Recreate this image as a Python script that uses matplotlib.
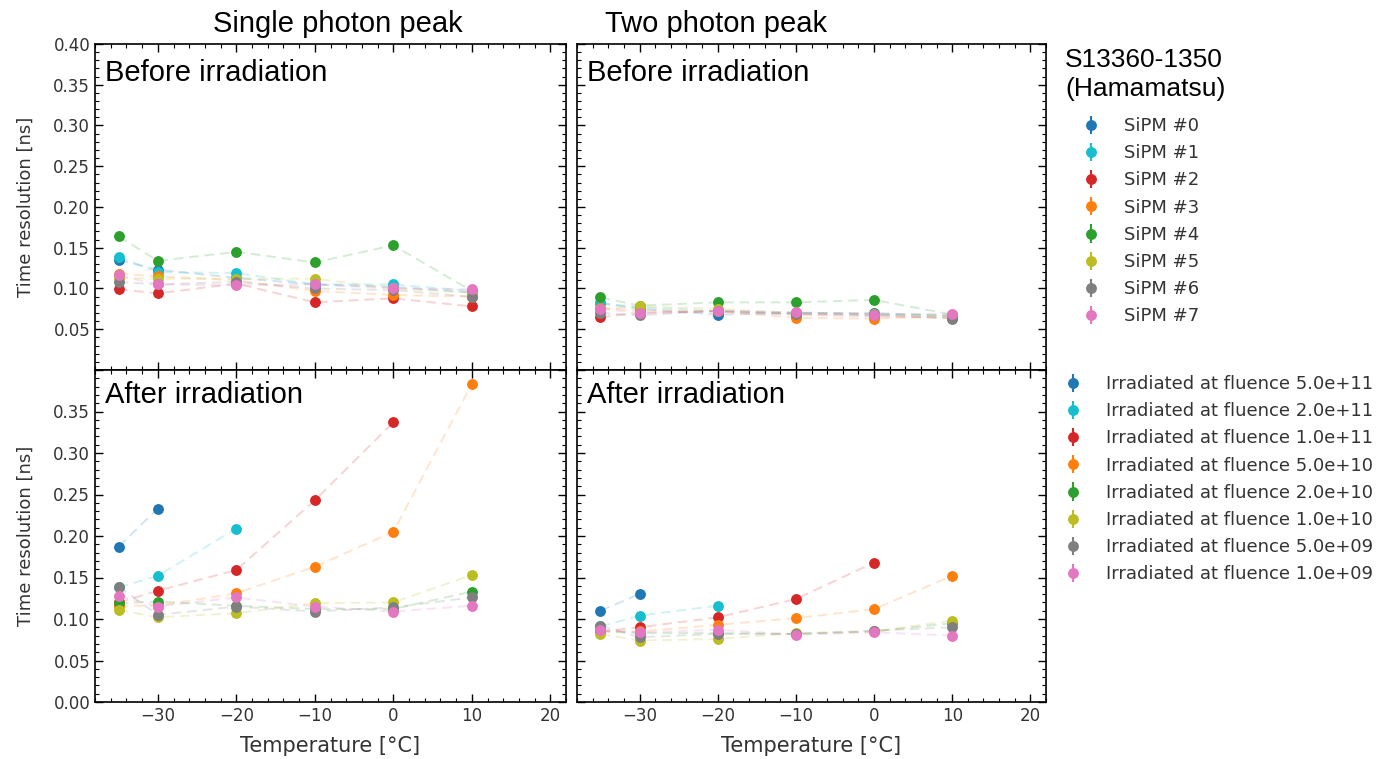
import numpy as np
import matplotlib
matplotlib.use("Agg")
import matplotlib.pyplot as plt
from matplotlib.ticker import MultipleLocator, FixedLocator, FixedFormatter

nan = np.nan
temperatures = [-35, -30, -20, -10, 0, 10]

sipm_labels = ["SiPM #0", "SiPM #1", "SiPM #2", "SiPM #3",
               "SiPM #4", "SiPM #5", "SiPM #6", "SiPM #7"]
fluence_labels = ["Irradiated at fluence 5.0e+11", "Irradiated at fluence 2.0e+11",
                  "Irradiated at fluence 1.0e+11", "Irradiated at fluence 5.0e+10",
                  "Irradiated at fluence 2.0e+10", "Irradiated at fluence 1.0e+10",
                  "Irradiated at fluence 5.0e+09", "Irradiated at fluence 1.0e+09"]
colors = ["tab:blue", "tab:cyan", "tab:red", "tab:orange",
          "tab:green", "tab:olive", "tab:gray", "tab:pink"]

# Single photon peak, before irradiation
single_before = [
    [0.135, 0.123, 0.113, 0.105, 0.102, 0.095],
    [0.139, 0.120, 0.119, 0.105, 0.105, 0.097],
    [0.099, 0.094, 0.106, 0.083, 0.088, 0.078],
    [0.118, 0.115, 0.110, 0.097, 0.092, 0.090],
    [0.164, 0.134, 0.145, 0.132, 0.153, 0.097],
    [0.113, 0.112, 0.112, 0.112, 0.100, 0.095],
    [0.108, 0.105, 0.108, 0.100, 0.098, 0.090],
    [0.116, 0.105, 0.104, 0.105, 0.100, 0.099],
]
# Single photon peak, after irradiation
single_after = [
    [0.187, 0.233, nan, nan, nan, nan],
    [0.138, 0.152, 0.209, nan, nan, nan],
    [0.120, 0.134, 0.159, 0.243, 0.337, nan],
    [0.116, 0.116, 0.131, 0.163, 0.205, 0.383],
    [0.119, 0.121, 0.116, 0.112, 0.112, 0.133],
    [0.111, 0.102, 0.107, 0.119, 0.120, 0.153],
    [0.139, 0.105, 0.115, 0.109, 0.114, 0.126],
    [0.128, 0.115, 0.126, 0.115, 0.109, 0.116],
]
# Two photon peak, before irradiation
two_before = [
    [0.082, 0.075, 0.068, 0.070, 0.070, 0.066],
    [0.082, 0.077, 0.072, 0.070, 0.068, 0.067],
    [0.065, 0.070, 0.072, 0.068, 0.066, 0.064],
    [0.076, 0.073, 0.072, 0.064, 0.063, 0.066],
    [0.089, 0.079, 0.083, 0.083, 0.086, 0.068],
    [0.075, 0.078, 0.075, 0.070, 0.069, 0.067],
    [0.070, 0.067, 0.073, 0.069, 0.068, 0.063],
    [0.075, 0.070, 0.072, 0.071, 0.068, 0.069],
]
# Two photon peak, after irradiation
two_after = [
    [0.110, 0.130, nan, nan, nan, nan],
    [0.091, 0.104, 0.116, nan, nan, nan],
    [0.085, 0.090, 0.102, 0.124, 0.168, nan],
    [0.085, 0.085, 0.093, 0.101, 0.112, 0.152],
    [0.085, 0.083, 0.083, 0.082, 0.085, 0.095],
    [0.082, 0.074, 0.076, 0.083, 0.085, 0.098],
    [0.092, 0.078, 0.082, 0.082, 0.086, 0.090],
    [0.087, 0.084, 0.087, 0.081, 0.084, 0.080],
]

panel_titles = ["Single photon peak", "Two photon peak"]
before_text = "Before irradiation"
after_text = "After irradiation"
legend_title = "S13360-1350\n(Hamamatsu)"
ylabel = "Time resolution [ns]"
xlabel = "Temperature [°C]"

W, H = 1379, 759
fig = plt.figure(figsize=(W / 100, H / 100), dpi=100)


def fpos(x0, y0, x1, y1):
    return [x0 / W, 1 - y1 / H, (x1 - x0) / W, (y1 - y0) / H]


ax_tl = fig.add_axes(fpos(95, 44, 566, 370))
ax_bl = fig.add_axes(fpos(95, 370, 566, 702))
ax_tr = fig.add_axes(fpos(577, 44, 1046, 370))
ax_br = fig.add_axes(fpos(577, 370, 1046, 702))

tick_color = "#333333"
yt = [0.00, 0.05, 0.10, 0.15, 0.20, 0.25, 0.30, 0.35, 0.40]


def draw(ax, data, labels):
    handles = []
    for vals, c, lab in zip(data, colors, labels):
        v = np.array(vals, dtype=float)
        t = np.array(temperatures, dtype=float)
        m = ~np.isnan(v)
        ax.plot(t[m], v[m], ls=(0, (5, 3)), color=c, alpha=0.2, lw=1.4)
        h = ax.errorbar(t[m], v[m], yerr=0.002, fmt="o", color=c, ms=6.8,
                        elinewidth=1.5, capsize=0, label=lab)
        handles.append(h)
    return handles


def style(ax, top, left):
    ax.set_xlim(-38, 22)
    ax.set_ylim(0, 0.40)
    ax.xaxis.set_major_locator(FixedLocator([-30, -20, -10, 0, 10, 20]))
    ax.xaxis.set_minor_locator(MultipleLocator(2))
    ax.yaxis.set_major_locator(FixedLocator(yt))
    ax.yaxis.set_minor_locator(MultipleLocator(0.01))
    if top:
        ylabs = ["" if v == 0 else f"{v:.2f}" for v in yt]
    else:
        ylabs = ["" if v == 0.40 else f"{v:.2f}" for v in yt]
    ax.yaxis.set_major_formatter(FixedFormatter(ylabs))
    ax.tick_params(which="both", direction="in", top=True, right=True,
                   labelsize=12, labelcolor=tick_color)
    ax.tick_params(which="major", length=6, width=1)
    ax.tick_params(which="minor", length=3, width=0.8)
    ax.tick_params(labelbottom=not top, labelleft=left)
    for s in ax.spines.values():
        s.set_linewidth(1.2)
    if left:
        ax.set_ylabel(ylabel, fontsize=13, color=tick_color, labelpad=13)
    if not top:
        ax.set_xlabel(xlabel, fontsize=15, color=tick_color, labelpad=8)


draw(ax_tl, single_before, sipm_labels)
draw(ax_bl, single_after, fluence_labels)
h_sipm = draw(ax_tr, two_before, sipm_labels)
h_flu = draw(ax_br, two_after, fluence_labels)

style(ax_tl, True, True)
style(ax_bl, False, True)
style(ax_tr, True, False)
style(ax_br, False, False)

arial = ["Liberation Sans", "DejaVu Sans"]
for ax in (ax_tl, ax_tr):
    ax.text(0.022, 0.887, before_text, transform=ax.transAxes, fontsize=21,
            family=arial, va="baseline", ha="left")
for ax in (ax_bl, ax_br):
    ax.text(0.022, 0.90, after_text, transform=ax.transAxes, fontsize=21,
            family=arial, va="baseline", ha="left")

fig.text(338 / W, 1 - 32 / H, panel_titles[0], fontsize=21, family=arial,
         ha="center", va="baseline")
fig.text(716 / W, 1 - 32 / H, panel_titles[1], fontsize=21, family=arial,
         ha="center", va="baseline")

fig.text(1065 / W, 1 - 67 / H, legend_title.split("\n")[0], fontsize=19,
         family=arial, ha="left", va="baseline")
fig.text(1065 / W, 1 - 96 / H, legend_title.split("\n")[1], fontsize=19,
         family=arial, ha="left", va="baseline")

leg1 = fig.legend(handles=h_sipm, labels=sipm_labels, loc="upper left",
                  bbox_to_anchor=(1073 / W, 1 - 117 / H), frameon=False,
                  fontsize=13, borderpad=0, borderaxespad=0, labelspacing=0.51,
                  handlelength=2.0, handletextpad=0.8, labelcolor=tick_color)
leg2 = fig.legend(handles=h_flu, labels=fluence_labels, loc="upper left",
                  bbox_to_anchor=(1055 / W, 1 - 375 / H), frameon=False,
                  fontsize=13, borderpad=0, borderaxespad=0, labelspacing=0.51,
                  handlelength=2.0, handletextpad=0.8, labelcolor=tick_color)

fig.savefig("out.png", dpi=100)
